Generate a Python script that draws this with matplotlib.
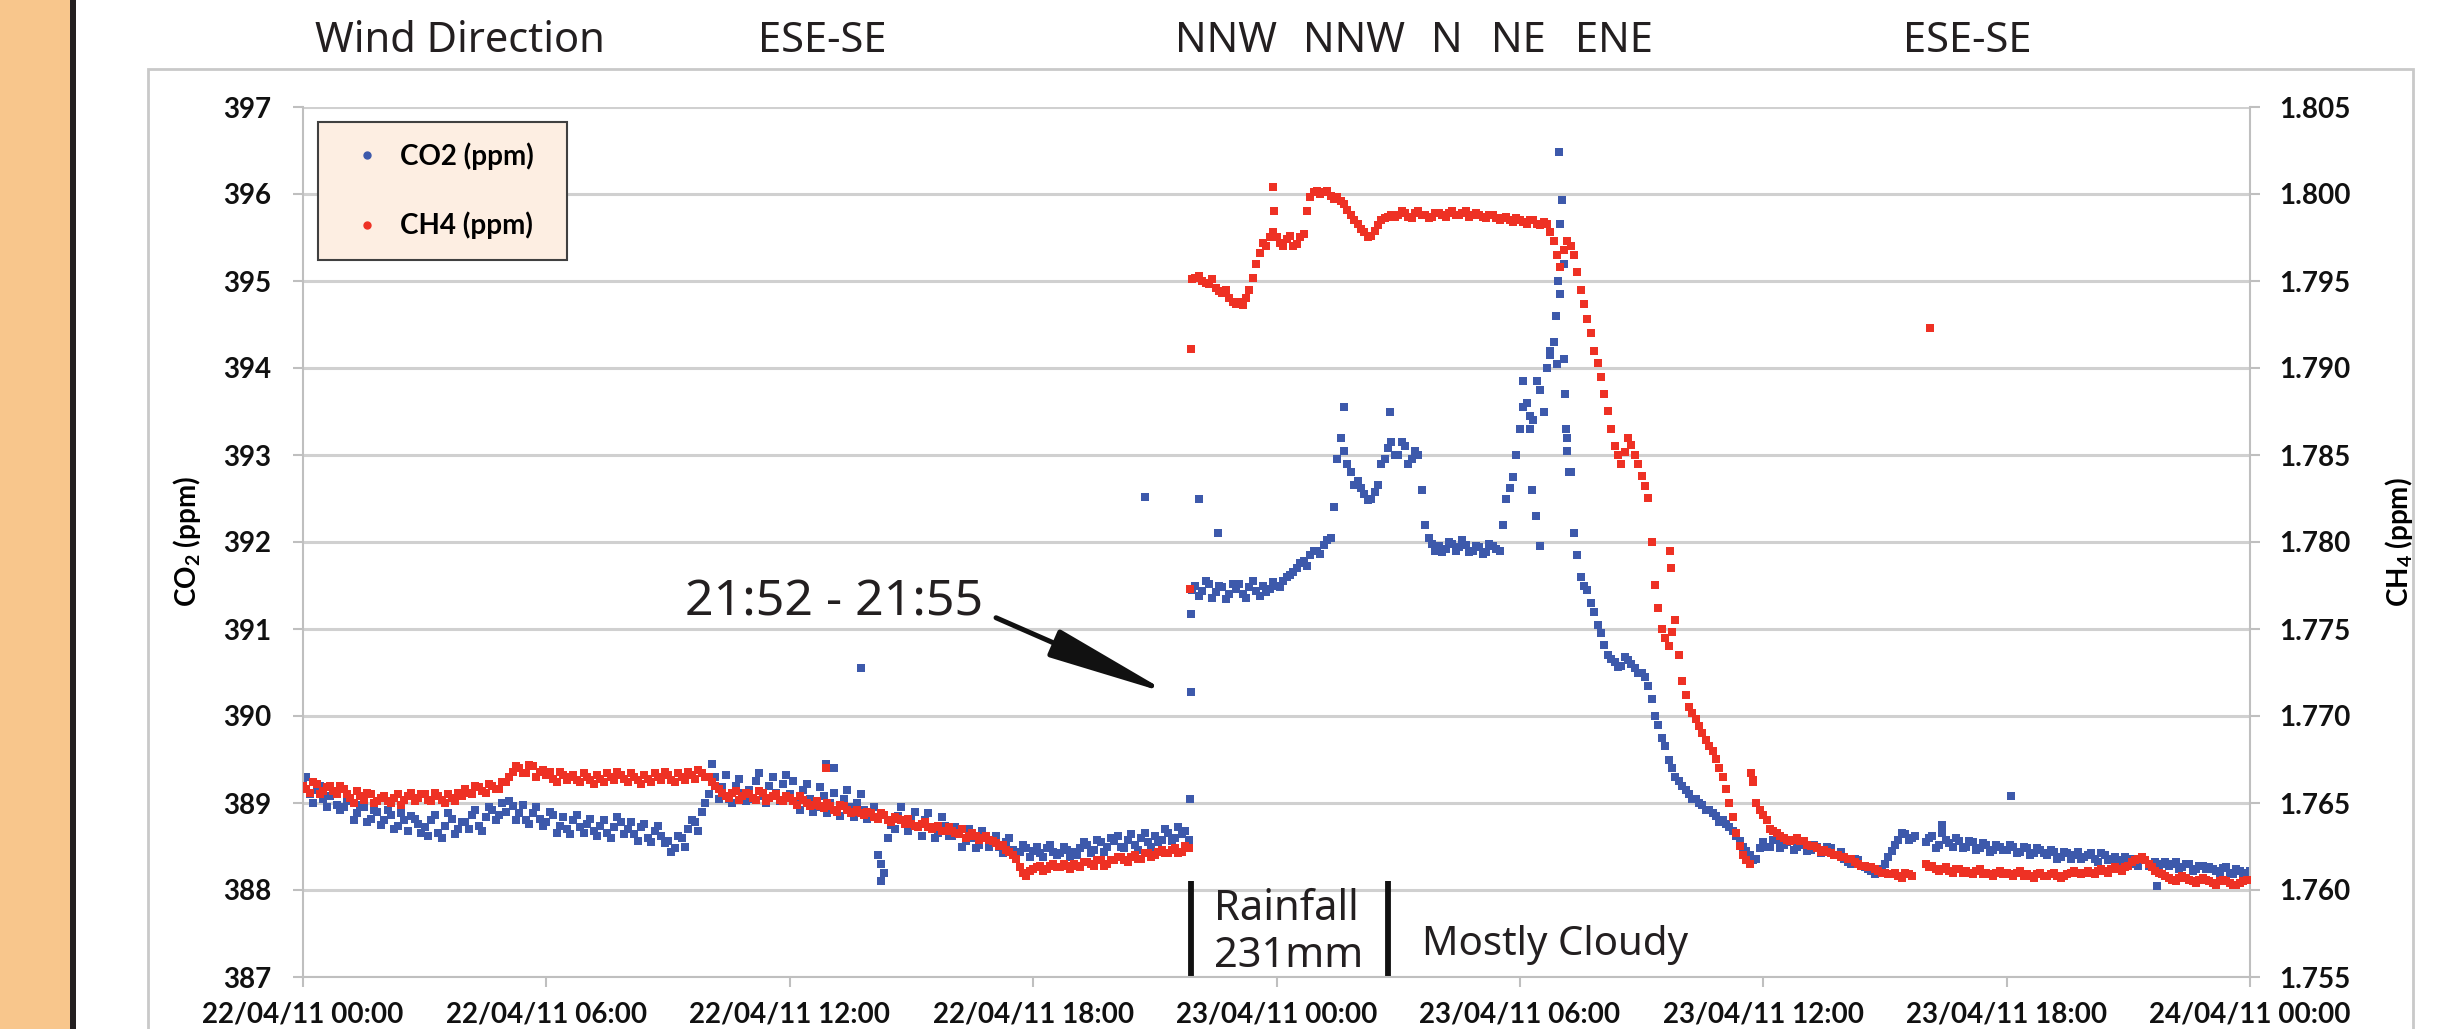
import numpy as np
import pandas as pd
import matplotlib.dates as mdates
import matplotlib.transforms as mtransforms
from matplotlib import pyplot as plt
from matplotlib.lines import Line2D
from matplotlib.patches import Rectangle
from matplotlib.ticker import FormatStrFormatter

nan = np.nan

# readings on the hour + 0, 10, ... 50 min, one row per hour, from 22/04/11 00:00
co2_rows = [
    [389.22, 389.10, 389.15, 389.05, 389.08, 388.98],  # 22/04 00h
    [388.95, 389.02, 388.88, 388.95, 388.82, 388.90],
    [388.80, 388.86, 388.74, 388.80, 388.85, 388.76],
    [388.72, 388.80, 388.66, 388.74, 388.82, 388.70],
    [388.78, 388.86, 388.74, 388.84, 388.92, 388.86],
    [388.90, 388.96, 388.88, 388.80, 388.88, 388.82],
    [388.78, 388.86, 388.74, 388.70, 388.80, 388.72],  # 06h
    [388.76, 388.68, 388.74, 388.66, 388.72, 388.78],
    [388.70, 388.64, 388.72, 388.60, 388.68, 388.62],
    [388.56, 388.48, 388.60, 388.70, 388.78, 388.90],
    [389.10, 389.30, 389.18, 389.05, 389.20, 389.12],
    [389.15, 389.25, 389.08, 389.20, 389.12, 389.22],
    [389.10, 389.00, 389.15, 389.05, 388.95, 389.08],  # 12h
    [389.00, 388.90, 389.05, 388.95, 389.00, 388.92],
    [388.85, 388.40, 388.20, 388.75, 388.85, 388.78],
    [388.82, 388.72, 388.80, 388.70, 388.66, 388.74],
    [388.62, 388.68, 388.56, 388.60, 388.52, 388.62],
    [388.58, 388.50, 388.55, 388.46, 388.44, 388.48],
    [388.45, 388.42, 388.48, 388.44, 388.42, 388.46],  # 18h
    [388.44, 388.48, 388.52, 388.46, 388.55, 388.50],
    [388.56, 388.50, 388.58, 388.52, 388.60, 388.55],
    [388.62, 388.58, 388.66, 388.60, 388.64, 388.58],
    [391.50, 391.44, 391.52, 391.42, 391.48, 391.40],
    [391.46, 391.40, 391.48, 391.44, 391.50, 391.46],
    [391.50, 391.55, 391.62, 391.70, 391.78, 391.85],  # 23/04 00h
    [391.90, 391.96, 392.05, 392.95, 393.05, 392.80],
    [392.70, 392.55, 392.50, 392.65, 392.95, 393.15],
    [393.00, 393.10, 392.95, 393.00, 392.20, 391.98],
    [391.95, 391.92, 391.98, 391.94, 391.96, 391.90],
    [391.94, 391.88, 391.95, 391.90, 392.50, 392.75],
    [393.30, 393.60, 393.40, 393.75, 394.00, 394.30],  # 06h
    [394.85, 393.20, 392.10, 391.60, 391.45, 391.20],
    [390.95, 390.70, 390.62, 390.58, 390.64, 390.55],
    [390.50, 390.35, 390.00, 389.75, 389.50, 389.30],
    [389.20, 389.10, 389.05, 388.98, 388.92, 388.85],
    [388.80, 388.72, 388.62, 388.50, 388.40, 388.36],
    [388.55, 388.50, 388.58, 388.52, 388.56, 388.50],  # 12h
    [388.52, 388.46, 388.50, 388.44, 388.48, 388.40],
    [388.36, 388.30, 388.34, 388.26, 388.22, 388.20],
    [388.30, 388.45, 388.58, 388.64, 388.60, nan],
    [388.55, 388.62, 388.52, 388.58, 388.50, 388.56],
    [388.50, 388.55, 388.48, 388.52, 388.46, 388.50],
    [388.46, 388.50, 388.44, 388.48, 388.42, 388.46],  # 18h
    [388.40, 388.44, 388.38, 388.42, 388.40, 388.36],
    [388.40, 388.36, 388.42, 388.34, 388.38, 388.35],
    [388.34, 388.30, 388.36, 388.28, 388.32, 388.30],
    [388.28, 388.32, 388.26, 388.30, 388.24, 388.28],
    [388.26, 388.22, 388.25, 388.20, 388.24, 388.20],
]
co2_last = 388.22

# readings at + 5, 15, ... 55 min
co2_rows_5 = [
    [389.30, 389.00, 389.20, 388.95, 389.12, 388.92],  # 22/04 00h
    [389.05, 388.80, 388.98, 388.78, 388.92, 388.75],
    [388.92, 388.70, 388.88, 388.68, 388.82, 388.66],
    [388.62, 388.86, 388.60, 388.88, 388.64, 388.78],
    [388.70, 388.92, 388.68, 388.95, 388.80, 389.00],
    [389.02, 388.80, 388.98, 388.76, 388.95, 388.74],
    [388.90, 388.66, 388.84, 388.64, 388.86, 388.66],  # 06h
    [388.82, 388.62, 388.80, 388.60, 388.84, 388.64],
    [388.78, 388.56, 388.76, 388.55, 388.74, 388.54],
    [388.44, 388.62, 388.50, 388.80, 388.68, 389.00],
    [389.45, 389.05, 389.32, 389.00, 389.28, 389.02],
    [389.05, 389.35, 389.00, 389.30, 389.02, 389.32],
    [389.25, 388.92, 389.22, 388.90, 389.18, 388.88],  # 12h
    [389.12, 388.85, 389.15, 388.84, 389.10, 388.82],
    [388.95, 388.30, 388.60, 388.70, 388.95, 388.68],
    [388.90, 388.62, 388.88, 388.60, 388.84, 388.62],
    [388.72, 388.50, 388.70, 388.48, 388.68, 388.50],
    [388.62, 388.42, 388.60, 388.40, 388.52, 388.38],
    [388.50, 388.38, 388.52, 388.40, 388.50, 388.38],  # 18h
    [388.40, 388.55, 388.42, 388.58, 388.44, 388.60],
    [388.62, 388.48, 388.64, 388.46, 388.66, 388.50],
    [388.55, 388.70, 388.56, 388.72, 388.68, 391.45],
    [391.38, 391.55, 391.36, 391.50, 391.35, 391.52],
    [391.52, 391.36, 391.55, 391.38, 391.42, 391.54],
    [391.48, 391.60, 391.66, 391.76, 391.72, 391.90],  # 23/04 00h
    [391.86, 392.02, 392.40, 393.20, 392.90, 392.66],
    [392.62, 392.48, 392.58, 392.90, 393.08, 393.00],
    [393.15, 392.90, 393.05, 392.60, 392.05, 391.90],
    [391.88, 392.00, 391.90, 392.02, 391.88, 391.95],
    [391.86, 391.98, 391.92, 392.20, 392.62, 393.00],
    [393.55, 393.30, 393.85, 393.50, 394.15, 394.05],  # 06h
    [395.20, 392.80, 391.85, 391.50, 391.30, 391.05],
    [390.82, 390.66, 390.56, 390.68, 390.60, 390.50],
    [390.45, 390.20, 389.90, 389.65, 389.40, 389.25],
    [389.15, 389.05, 389.00, 388.92, 388.88, 388.78],
    [388.76, 388.68, 388.56, 388.45, 388.34, 388.48],
    [388.50, 388.58, 388.48, 388.55, 388.46, 388.54],  # 12h
    [388.45, 388.52, 388.42, 388.50, 388.40, 388.44],
    [388.32, 388.36, 388.28, 388.24, 388.18, 388.24],
    [388.38, 388.52, 388.66, 388.58, 388.62, nan],
    [388.60, 388.48, 388.65, 388.54, 388.60, 388.48],
    [388.56, 388.46, 388.54, 388.44, 388.52, 388.46],
    [388.52, 388.42, 388.50, 388.40, 388.48, 388.42],  # 18h
    [388.46, 388.36, 388.44, 388.36, 388.44, 388.38],
    [388.42, 388.32, 388.40, 388.36, 388.32, 388.38],
    [388.36, 388.28, 388.34, 388.30, 388.26, 388.32],
    [388.30, 388.24, 388.30, 388.22, 388.28, 388.24],
    [388.24, 388.20, 388.26, 388.18, 388.22, 388.20],
]

ch4_rows = [
    [1.7660, 1.7656, 1.7661, 1.7657, 1.7660, 1.7655],  # 22/04 00h
    [1.7658, 1.7653, 1.7657, 1.7652, 1.7655, 1.7651],
    [1.7654, 1.7650, 1.7655, 1.7652, 1.7656, 1.7653],
    [1.7655, 1.7651, 1.7654, 1.7650, 1.7653, 1.7656],
    [1.7658, 1.7655, 1.7659, 1.7656, 1.7660, 1.7658],
    [1.7662, 1.7668, 1.7670, 1.7667, 1.7671, 1.7668],
    [1.7666, 1.7664, 1.7668, 1.7663, 1.7666, 1.7662],  # 06h
    [1.7665, 1.7661, 1.7664, 1.7667, 1.7663, 1.7666],
    [1.7662, 1.7665, 1.7661, 1.7664, 1.7667, 1.7663],
    [1.7666, 1.7662, 1.7665, 1.7668, 1.7664, 1.7667],
    [1.7665, 1.7660, 1.7656, 1.7653, 1.7657, 1.7654],
    [1.7655, 1.7652, 1.7656, 1.7653, 1.7655, 1.7651],
    [1.7653, 1.7649, 1.7652, 1.7648, 1.7651, 1.7647],  # 12h
    [1.7648, 1.7645, 1.7648, 1.7644, 1.7646, 1.7643],
    [1.7644, 1.7641, 1.7643, 1.7639, 1.7641, 1.7638],
    [1.7638, 1.7636, 1.7639, 1.7635, 1.7637, 1.7634],
    [1.7634, 1.7632, 1.7630, 1.7633, 1.7629, 1.7631],
    [1.7628, 1.7625, 1.7623, 1.7620, 1.7613, 1.7608],
    [1.7612, 1.7614, 1.7612, 1.7615, 1.7613, 1.7614],  # 18h
    [1.7615, 1.7613, 1.7616, 1.7614, 1.7617, 1.7615],
    [1.7617, 1.7619, 1.7616, 1.7620, 1.7618, 1.7621],
    [1.7620, 1.7623, 1.7621, 1.7624, 1.7622, 1.7624],
    [1.7952, 1.7950, 1.7948, 1.7946, 1.7943, 1.7940],
    [1.7937, 1.7936, 1.7945, 1.7960, 1.7972, 1.7975],
    [1.7975, 1.7970, 1.7976, 1.7971, 1.7977, 1.7998],  # 23/04 00h
    [1.8002, 1.8001, 1.7999, 1.7998, 1.7994, 1.7988],
    [1.7983, 1.7978, 1.7976, 1.7982, 1.7986, 1.7988],
    [1.7988, 1.7989, 1.7986, 1.7990, 1.7988, 1.7987],
    [1.7989, 1.7987, 1.7990, 1.7988, 1.7990, 1.7988],
    [1.7988, 1.7986, 1.7988, 1.7985, 1.7987, 1.7984],
    [1.7985, 1.7983, 1.7985, 1.7982, 1.7983, 1.7973],  # 06h
    [1.7958, 1.7973, 1.7965, 1.7945, 1.7928, 1.7910],
    [1.7895, 1.7875, 1.7855, 1.7845, 1.7860, 1.7850],
    [1.7838, 1.7825, 1.7775, 1.7750, 1.7740, 1.7755],
    [1.7720, 1.7705, 1.7698, 1.7690, 1.7683, 1.7675],
    [1.7665, 1.7650, 1.7633, 1.7620, 1.7615, 1.7650],
    [1.7643, 1.7635, 1.7633, 1.7630, 1.7628, 1.7630],  # 12h
    [1.7628, 1.7625, 1.7624, 1.7623, 1.7621, 1.7620],
    [1.7619, 1.7618, 1.7615, 1.7614, 1.7613, 1.7611],
    [1.7610, 1.7609, 1.7608, 1.7610, 1.7608, nan],
    [1.7615, 1.7614, 1.7611, 1.7613, 1.7610, 1.7612],
    [1.7611, 1.7609, 1.7612, 1.7610, 1.7608, 1.7611],
    [1.7610, 1.7608, 1.7611, 1.7609, 1.7607, 1.7610],  # 18h
    [1.7608, 1.7610, 1.7607, 1.7609, 1.7611, 1.7609],
    [1.7611, 1.7609, 1.7612, 1.7610, 1.7613, 1.7611],
    [1.7614, 1.7617, 1.7619, 1.7615, 1.7611, 1.7609],
    [1.7607, 1.7605, 1.7608, 1.7606, 1.7604, 1.7607],
    [1.7605, 1.7603, 1.7606, 1.7604, 1.7603, 1.7605],
]
ch4_last = 1.7606

ch4_rows_5 = [
    [1.7658, 1.7662, 1.7655, 1.7659, 1.7657, 1.7660],  # 22/04 00h
    [1.7655, 1.7650, 1.7654, 1.7656, 1.7650, 1.7653],
    [1.7651, 1.7653, 1.7649, 1.7654, 1.7651, 1.7655],
    [1.7652, 1.7656, 1.7652, 1.7655, 1.7651, 1.7654],
    [1.7656, 1.7660, 1.7657, 1.7661, 1.7658, 1.7662],
    [1.7665, 1.7671, 1.7667, 1.7672, 1.7665, 1.7669],
    [1.7668, 1.7662, 1.7666, 1.7665, 1.7663, 1.7667],  # 06h
    [1.7663, 1.7666, 1.7662, 1.7665, 1.7668, 1.7664],
    [1.7667, 1.7663, 1.7666, 1.7662, 1.7665, 1.7668],
    [1.7663, 1.7667, 1.7663, 1.7666, 1.7669, 1.7665],
    [1.7662, 1.7658, 1.7654, 1.7656, 1.7652, 1.7656],
    [1.7653, 1.7657, 1.7651, 1.7654, 1.7652, 1.7654],
    [1.7651, 1.7654, 1.7650, 1.7649, 1.7648, 1.7650],  # 12h
    [1.7646, 1.7649, 1.7646, 1.7645, 1.7644, 1.7645],
    [1.7642, 1.7644, 1.7640, 1.7642, 1.7640, 1.7641],
    [1.7637, 1.7638, 1.7636, 1.7636, 1.7634, 1.7636],
    [1.7633, 1.7635, 1.7631, 1.7631, 1.7630, 1.7629],
    [1.7627, 1.7626, 1.7622, 1.7618, 1.7610, 1.7611],
    [1.7613, 1.7611, 1.7614, 1.7613, 1.7615, 1.7612],  # 18h
    [1.7614, 1.7616, 1.7615, 1.7617, 1.7614, 1.7617],
    [1.7619, 1.7617, 1.7619, 1.7618, 1.7621, 1.7619],
    [1.7622, 1.7621, 1.7623, 1.7621, 1.7625, 1.7951],
    [1.7953, 1.7949, 1.7951, 1.7944, 1.7945, 1.7938],
    [1.7938, 1.7940, 1.7952, 1.7966, 1.7970, 1.7978],
    [1.7972, 1.7974, 1.7970, 1.7975, 1.7990, 1.8001],  # 23/04 00h
    [1.8000, 1.8002, 1.7997, 1.7996, 1.7991, 1.7985],
    [1.7980, 1.7975, 1.7979, 1.7985, 1.7987, 1.7987],
    [1.7990, 1.7987, 1.7989, 1.7988, 1.7986, 1.7989],
    [1.7988, 1.7989, 1.7988, 1.7989, 1.7987, 1.7989],
    [1.7987, 1.7988, 1.7986, 1.7986, 1.7985, 1.7986],
    [1.7984, 1.7985, 1.7983, 1.7984, 1.7978, 1.7965],  # 06h
    [1.7968, 1.7970, 1.7955, 1.7937, 1.7920, 1.7903],
    [1.7885, 1.7865, 1.7850, 1.7852, 1.7856, 1.7845],
    [1.7832, 1.7800, 1.7762, 1.7745, 1.7748, 1.7735],
    [1.7712, 1.7702, 1.7694, 1.7686, 1.7680, 1.7670],
    [1.7658, 1.7642, 1.7625, 1.7617, 1.7662, 1.7646],
    [1.7640, 1.7634, 1.7631, 1.7629, 1.7629, 1.7628],  # 12h
    [1.7626, 1.7625, 1.7622, 1.7622, 1.7620, 1.7619],
    [1.7618, 1.7616, 1.7614, 1.7613, 1.7612, 1.7610],
    [1.7609, 1.7610, 1.7607, 1.7609, nan, nan],
    [1.7613, 1.7612, 1.7612, 1.7611, 1.7612, 1.7610],
    [1.7610, 1.7611, 1.7609, 1.7609, 1.7610, 1.7609],
    [1.7609, 1.7610, 1.7608, 1.7608, 1.7609, 1.7608],  # 18h
    [1.7609, 1.7608, 1.7608, 1.7610, 1.7610, 1.7610],
    [1.7610, 1.7611, 1.7611, 1.7612, 1.7612, 1.7613],
    [1.7616, 1.7618, 1.7617, 1.7613, 1.7610, 1.7608],
    [1.7606, 1.7607, 1.7607, 1.7605, 1.7606, 1.7606],
    [1.7604, 1.7605, 1.7605, 1.7603, 1.7604, 1.7606],
]

# isolated readings (spikes, 21:52-21:55 transition)
co2_extra_time = ['2011-04-22 12:54', '2011-04-22 13:06', '2011-04-22 13:45', '2011-04-22 14:15',
                  '2011-04-22 20:45', '2011-04-22 21:52', '2011-04-22 21:53', '2011-04-22 21:54',
                  '2011-04-22 22:06', '2011-04-22 22:33', '2011-04-23 01:40', '2011-04-23 02:48',
                  '2011-04-23 06:05', '2011-04-23 06:15', '2011-04-23 06:18', '2011-04-23 06:24',
                  '2011-04-23 06:30', '2011-04-23 06:45', '2011-04-23 06:54', '2011-04-23 06:57',
                  '2011-04-23 06:58', '2011-04-23 07:00', '2011-04-23 07:03', '2011-04-23 07:06',
                  '2011-04-23 07:07', '2011-04-23 07:08', '2011-04-23 07:09', '2011-04-23 07:12',
                  '2011-04-23 16:24', '2011-04-23 18:06', '2011-04-23 21:42']
co2_extra = [389.45, 389.40, 390.55, 388.10,
             392.52, 389.05, 390.28, 391.17,
             392.50, 392.10, 393.55, 393.50,
             393.85, 393.45, 392.60, 392.30,
             391.95, 394.20, 394.60, 395.00,
             396.48, 395.65, 395.93, 394.10,
             393.70, 393.30, 393.05, 392.80,
             388.75, 389.08, 388.05]

ch4_extra_time = ['2011-04-22 12:54', '2011-04-22 21:52', '2011-04-22 21:53', '2011-04-22 23:55',
                  '2011-04-22 23:57', '2011-04-23 09:42', '2011-04-23 09:43', '2011-04-23 11:42',
                  '2011-04-23 11:45', '2011-04-23 16:06']
ch4_extra = [1.7670, 1.7773, 1.7911, 1.8004,
             1.7990, 1.7795, 1.7785, 1.7667,
             1.7663, 1.7923]

wind_labels = ['ESE-SE', 'NNW', 'NNW', 'N', 'NE', 'ENE', 'ESE-SE']
wind_times = ['2011-04-22 12:48', '2011-04-22 22:46', '2011-04-23 01:55', '2011-04-23 04:12',
              '2011-04-23 05:58', '2011-04-23 08:19', '2011-04-23 17:02']

rain_start = '2011-04-22 21:53'
rain_end = '2011-04-23 02:45'

times = pd.date_range('2011-04-22 00:00', '2011-04-24 00:00', freq='10min')
times_5 = pd.date_range('2011-04-22 00:05', periods=288, freq='10min')
co2 = np.array(sum(co2_rows, []) + [co2_last])
ch4 = np.array(sum(ch4_rows, []) + [ch4_last])
co2_5 = np.array(sum(co2_rows_5, []))
ch4_5 = np.array(sum(ch4_rows_5, []))


def d(s):
    return mdates.date2num(pd.Timestamp(s))


plt.rcParams['font.family'] = ['Lato', 'DejaVu Sans']
plt.rcParams['font.weight'] = 'bold'
plt.rcParams['mathtext.fontset'] = 'custom'
plt.rcParams['mathtext.rm'] = 'Lato'
plt.rcParams['mathtext.bf'] = 'Lato:bold'

blue = '#3D59AB'
red = '#EE3124'
grey = '#BFBFBF'
ink = '#231F20'
note = dict(family='Noto Sans', fontweight='normal', color=ink)
dot = dict(ls='none', marker='s', ms=6.2, mew=0)

W, H = 2451, 1029
fig = plt.figure(figsize=(W / 100, H / 100), dpi=100)
fig.add_artist(Rectangle((0, 0), 70 / W, 1, transform=fig.transFigure, color='#F8C68C', lw=0))
fig.add_artist(Rectangle((70 / W, 0), 6 / W, 1, transform=fig.transFigure, color=ink, lw=0))
fig.add_artist(Rectangle((148 / W, -0.1), (2413 - 148) / W, 1.1 - 69 / H,
                         transform=fig.transFigure, fill=False, ec='#C9C9C9', lw=2))

ax = fig.add_axes([303 / W, 1 - 977 / H, 1947 / W, 870 / H])
ax2 = ax.twinx()

ax.plot(times, co2, color=blue, **dot)
ax.plot(times_5, co2_5, color=blue, **dot)
ax.plot(pd.to_datetime(co2_extra_time), co2_extra, color=blue, **dot)
ax2.plot(times, ch4, color=red, **dot)
ax2.plot(times_5, ch4_5, color=red, **dot)
ax2.plot(pd.to_datetime(ch4_extra_time), ch4_extra, color=red, **dot)

ax.set_xlim(d('2011-04-22 00:00'), d('2011-04-24 00:00'))
ax.set_ylim(387, 397)
ax2.set_ylim(1.755, 1.805)
ax.set_yticks(np.arange(387, 398, 1))
ax2.set_yticks(np.linspace(1.755, 1.805, 11))
ax2.yaxis.set_major_formatter(FormatStrFormatter('%.3f'))
ax.xaxis.set_major_locator(mdates.HourLocator(byhour=[0, 6, 12, 18]))
ax.xaxis.set_major_formatter(mdates.DateFormatter('%d/%m/%y %H:%M'))

ax.grid(axis='y', color='#D0D0D0', lw=2.2)
ax.set_axisbelow(True)
ax.spines['top'].set_visible(False)
for s in ['left', 'right', 'bottom']:
    ax.spines[s].set_color(grey)
    ax.spines[s].set_linewidth(1.5)
for s in ax2.spines.values():
    s.set_visible(False)
ax.tick_params(axis='y', length=7, width=1.5, color=grey, pad=16, labelsize=20, labelcolor='#111111')
ax.tick_params(axis='x', length=7, width=1.5, color=grey, pad=11, labelsize=20, labelcolor='#111111')
ax2.tick_params(axis='y', length=7, width=1.5, color=grey, pad=14, labelsize=20, labelcolor='#111111')

ax.set_ylabel(r'CO$_\mathbf{2}$ (ppm)', fontsize=20, fontweight='bold')
ax.yaxis.set_label_coords(-0.0514, 0.5)
ax2.set_ylabel(r'CH$_\mathbf{4}$ (ppm)', fontsize=20, fontweight='bold')
ax2.yaxis.set_label_coords(1.0683, 0.5)

handles = [Line2D([], [], ls='none', marker='o', ms=5, color=blue, label='CO2 (ppm)'),
           Line2D([], [], ls='none', marker='o', ms=5, color=red, label='CH4 (ppm)')]
leg = ax2.legend(handles=handles, loc='upper left', bbox_to_anchor=(0.0077, 0.5, 0.128, 0.483),
                 mode='expand', borderaxespad=0, fontsize=20, labelspacing=1.5, borderpad=0.75,
                 handlelength=2.0, handletextpad=0.2, fancybox=False, facecolor='#FDEEE2',
                 edgecolor='#404040', framealpha=1)
leg.get_frame().set_linewidth(1.5)

# wind direction header
fig.text(460 / W, 1 - 52 / H, 'Wind Direction', ha='center', va='baseline', fontsize=30, **note)
top = mtransforms.blended_transform_factory(ax.transData, fig.transFigure)
for lab, t in zip(wind_labels, wind_times):
    ax.text(d(t), 1 - 52 / H, lab, transform=top, ha='center', va='baseline', fontsize=30, **note)

# transition annotation
ax.annotate('21:52 - 21:55', xy=(d('2011-04-22 21:24'), 390.25),
            xytext=(d('2011-04-22 09:25'), 391.16), ha='left', va='baseline', fontsize=36,
            arrowprops=dict(arrowstyle='-|>,head_length=3.8,head_width=0.45', lw=3.6, color='#111111',
                            relpos=(1, 0.3), shrinkA=8, shrinkB=0, mutation_scale=20), **note)

# rainfall period
ax.vlines([d(rain_start), d(rain_end)], 387, 388.1, colors='#111111', lw=4.2)
ax.text(d('2011-04-22 22:28'), 387.655, 'Rainfall', fontsize=30, va='baseline', **note)
ax.text(d('2011-04-22 22:28'), 387.115, '231mm', fontsize=30, va='baseline', **note)
ax.text(d('2011-04-23 03:35'), 387.25, 'Mostly Cloudy', fontsize=29, va='baseline', **note)

fig.savefig('out.png', dpi=100)
